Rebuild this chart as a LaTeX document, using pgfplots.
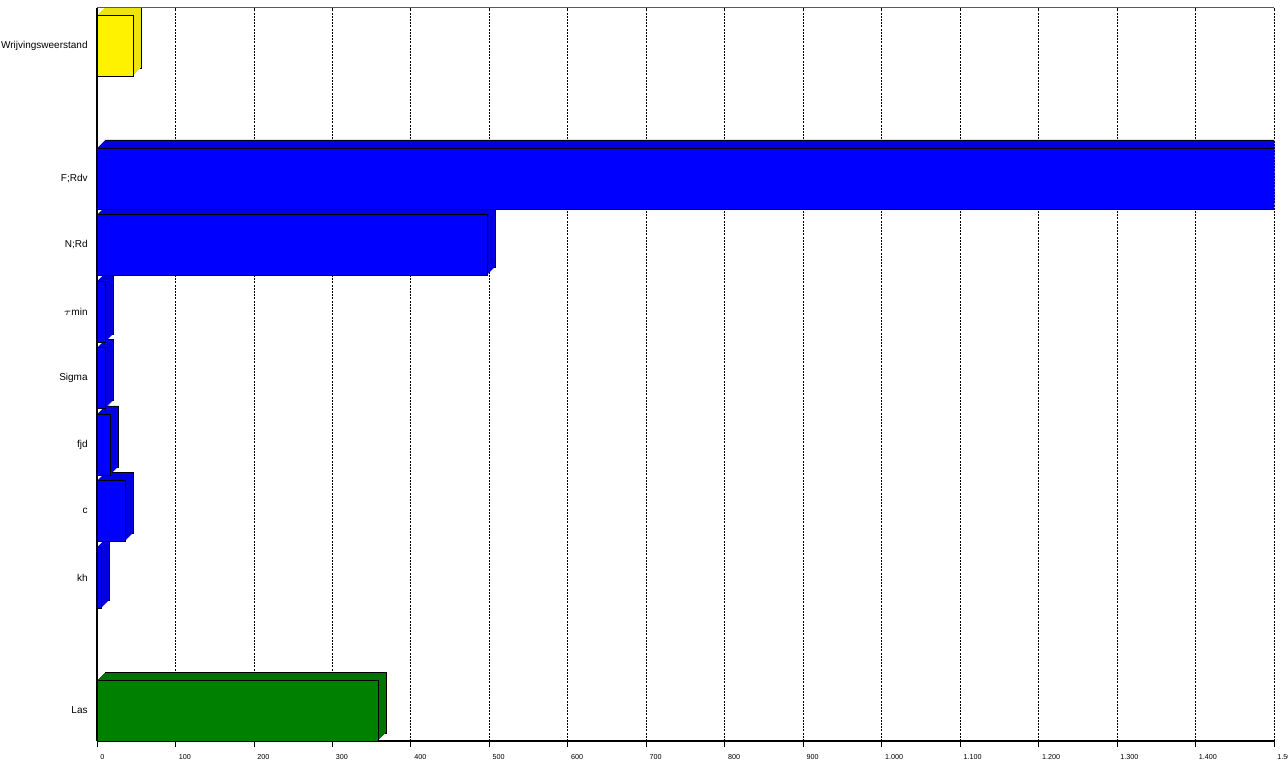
\documentclass[border=0pt]{standalone}
\usepackage{pgfplots}
\pgfplotsset{compat=1.18}
\usepackage{fontspec}
\setmainfont{Liberation Sans}
\pgfplotstableread{
x y
46 0
}\yellowdata
\pgfplotstableread{
x y
1510 -2
497 -3
11 -4
11 -5
17 -6
36 -7
6 -8
}\bluedata
\pgfplotstableread{
x y
358 -10
}\greendata
\begin{document}
\begin{tikzpicture}
\useasboundingbox (-48.5pt,-9pt) rectangle (595.5pt,370.5pt);
\begin{axis}[
  at={(0,0)}, anchor=south west,
  scale only axis, width=588.5pt, height=366.5pt,
  xmin=0, xmax=1500, ymin=-10.46, ymax=0.564,
  axis lines=left, axis line style={-, black, line width=0.6pt},
  xtick={0,100,...,1500},
  xticklabels={0,100,200,300,400,500,600,700,800,900,1.000,1.100,1.200,1.300,1.400,1.500},
  xticklabel style={font=\fontsize{3.6}{4}\selectfont, anchor=north west, inner xsep=0pt, inner ysep=0pt, xshift=1.5pt, yshift=-3.5pt},
  xtick align=outside, xtick style={black, line width=0.4pt}, major tick length=3pt,
  ytick={-10,-8,-7,-6,-5,-4,-3,-2,0},
  yticklabels={Las,kh,c,fjd,Sigma,$\tau$min,N;Rd,F;Rdv,Wrijvingsweerstand},
  ytick style={draw=none},
  yticklabel style={font=\fontsize{5}{6}\selectfont, inner xsep=1.5pt},
  xmajorgrids, major grid style={black, line width=0.4pt, dash pattern=on 1pt off 0.6pt},
  xbar, bar width=30.5pt,
]
% yellow
\addplot[xbar, bar shift=0pt, fill=yellow!92!black, draw=black, line width=0.4pt, xshift=4pt, yshift=4pt] table[x=x,y=y] {\yellowdata};
\pgfplotsinvokeforeach{3.5,3,2.5,2,1.5,1,0.5}{
\addplot[xbar, bar shift=0pt, fill=yellow!92!black, draw=none, xshift=#1pt, yshift=#1pt] table[x=x,y=y] {\yellowdata};
}
\addplot[xbar, bar shift=0pt, fill=yellow, draw=black, line width=0.4pt] table[x=x,y=y] {\yellowdata};
% blue
\addplot[xbar, bar shift=0pt, fill=blue!88!black, draw=black, line width=0.4pt, xshift=4pt, yshift=4pt] table[x=x,y=y] {\bluedata};
\pgfplotsinvokeforeach{3.5,3,2.5,2,1.5,1,0.5}{
\addplot[xbar, bar shift=0pt, fill=blue!88!black, draw=none, xshift=#1pt, yshift=#1pt] table[x=x,y=y] {\bluedata};
}
\addplot[xbar, bar shift=0pt, fill=blue, draw=black, line width=0.4pt] table[x=x,y=y] {\bluedata};
% green
\addplot[xbar, bar shift=0pt, fill=green!45!black, draw=black, line width=0.4pt, xshift=4pt, yshift=4pt] table[x=x,y=y] {\greendata};
\pgfplotsinvokeforeach{3.5,3,2.5,2,1.5,1,0.5}{
\addplot[xbar, bar shift=0pt, fill=green!45!black, draw=none, xshift=#1pt, yshift=#1pt] table[x=x,y=y] {\greendata};
}
\addplot[xbar, bar shift=0pt, fill=green!50!black, draw=black, line width=0.4pt] table[x=x,y=y] {\greendata};
\draw[gray!70!black, line width=0.5pt] (rel axis cs:0,1) -- (rel axis cs:1,1);
\end{axis}
\end{tikzpicture}
\end{document}
